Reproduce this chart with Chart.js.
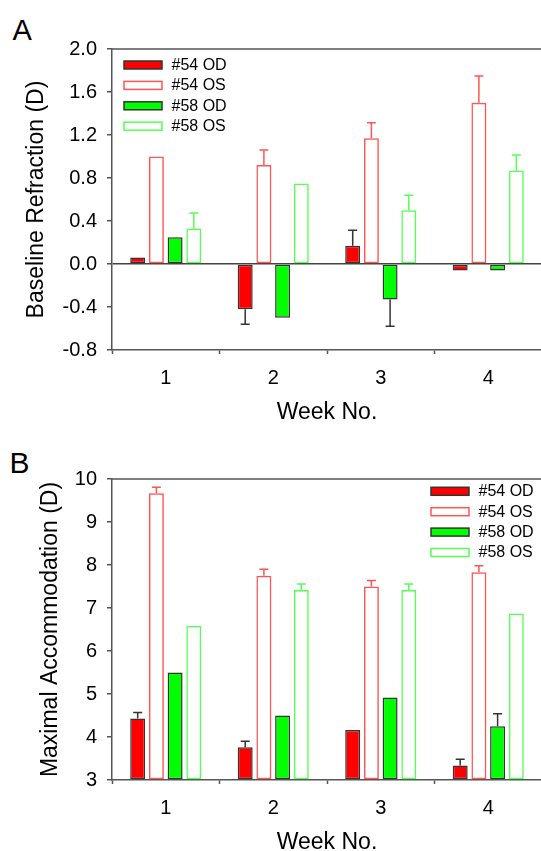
<!DOCTYPE html>
<html>
<head>
<meta charset="utf-8">
<script src="https://cdn.jsdelivr.net/npm/chart.js@4/dist/chart.umd.min.js"></script>
<style>
  body { margin: 0; background: #fff; overflow: hidden; width: 541px; height: 851px; position: relative; }
  .panel { position: absolute; left: 0; }
  .tag { position: absolute; font-family: "Liberation Sans", Arial, sans-serif; line-height: 1; color: #000; }
</style>
</head>
<body>
<div class="tag" style="left:12.5px; top:16px; font-size:29px;">A</div>
<div class="tag" style="left:9.5px; top:448px; font-size:30px;">B</div>
<div class="panel" style="top:0;"><canvas id="chartA" width="542" height="426"></canvas></div>
<div class="panel" style="top:426px;"><canvas id="chartB" width="542" height="430"></canvas></div>
<script>
const weeks = ['1', '2', '3', '4'];
const seriesNames = ['#54 OD', '#54 OS', '#58 OD', '#58 OS'];

// panel A - baseline refraction
const refr54OD = [0.06, -0.42, 0.17, -0.06];
const refr54OS = [1.00, 0.92, 1.17, 1.50];
const refr58OD = [0.25, -0.50, -0.33, -0.06];
const refr58OS = [0.33, 0.75, 0.50, 0.87];
const refrErr54OD = [0, 0.14, 0.145, 0];
const refrErr54OS = [0, 0.14, 0.145, 0.25];
const refrErr58OD = [0, 0, 0.25, 0];
const refrErr58OS = [0.145, 0, 0.14, 0.145];
const refrTicks = [-0.8, -0.4, 0.0, 0.4, 0.8, 1.2, 1.6, 2.0];

// panel B - maximal accommodation
const acc54OD = [4.43, 3.76, 4.16, 3.34];
const acc54OS = [9.67, 7.75, 7.50, 7.83];
const acc58OD = [5.50, 4.50, 4.92, 4.25];
const acc58OS = [6.59, 7.42, 7.42, 6.87];
const accErr54OD = [0.14, 0.14, 0, 0.14];
const accErr54OS = [0.14, 0.15, 0.14, 0.15];
const accErr58OD = [0, 0, 0, 0.29];
const accErr58OS = [0, 0.14, 0.14, 0];
const accTicks = [3, 4, 5, 6, 7, 8, 9, 10];

const FONT = '"Liberation Sans", Arial, sans-serif';
const AXIS = '#555';
const fills = ['#ff0000', 'rgba(0,0,0,0)', '#00ff00', 'rgba(0,0,0,0)'];
const borders = ['#333', '#ff5555', '#333', '#55ff55'];
const errColors = ['#333', '#ff5555', '#333', '#55ff55'];

// error bars, one sided, away from zero
const errorBars = {
    id: 'errorBars',
    afterDatasetsDraw(chart) {
        const ctx = chart.ctx;
        const y = chart.scales.y;
        ctx.save();
        ctx.lineWidth = 1.5;
        chart.data.datasets.forEach((ds, i) => {
            chart.getDatasetMeta(i).data.forEach((bar, j) => {
                const e = ds.err[j];
                if (!e) return;
                const v = ds.data[j];
                const y1 = y.getPixelForValue(v < 0 ? v - e : v + e);
                ctx.strokeStyle = errColors[i];
                ctx.beginPath();
                ctx.moveTo(bar.x, bar.y);
                ctx.lineTo(bar.x, y1);
                ctx.moveTo(bar.x - 4.5, y1);
                ctx.lineTo(bar.x + 4.5, y1);
                ctx.stroke();
            });
        });
        ctx.restore();
    }
};

// top frame line + legend inside the plot
const frameLegend = {
    id: 'frameLegend',
    afterDraw(chart, args, opts) {
        const ctx = chart.ctx;
        const a = chart.chartArea;
        ctx.save();
        ctx.strokeStyle = AXIS;
        ctx.lineWidth = 1.5;
        ctx.beginPath();
        ctx.moveTo(a.left, a.top);
        ctx.lineTo(a.right + 2, a.top);
        ctx.stroke();

        const x0 = opts.fromRight ? a.right - opts.dx : a.left + opts.dx;
        let yy = a.top + opts.dy;
        ctx.font = '16px ' + FONT;
        ctx.textBaseline = 'middle';
        chart.data.datasets.forEach((ds, i) => {
            ctx.fillStyle = fills[i] === 'rgba(0,0,0,0)' ? '#fff' : fills[i];
            ctx.fillRect(x0, yy - 4, 38, 8);
            ctx.strokeStyle = borders[i];
            ctx.lineWidth = 1.5;
            ctx.strokeRect(x0, yy - 4, 38, 8);
            ctx.fillStyle = '#000';
            ctx.fillText(ds.label, x0 + 47.5, yy + 0.5);
            yy += 20.4;
        });
        ctx.restore();
    }
};

function makeChart(id, values, errs, ticks, fmt, yTitle, titlePad, top, legendOpts, base) {
    const datasets = values.map((d, i) => ({
        label: seriesNames[i],
        data: d,
        err: errs[i],
        backgroundColor: fills[i],
        borderColor: borders[i],
        borderWidth: 1.5,
        borderSkipped: false,
        base: base,
        categoryPercentage: 0.696,
        barPercentage: 0.8
    }));
    return new Chart(document.getElementById(id), {
        type: 'bar',
        data: { labels: weeks, datasets: datasets },
        plugins: [errorBars, frameLegend],
        options: {
            responsive: false,
            animation: false,
            layout: { padding: { top: top, left: 0, right: 0, bottom: 0 } },
            plugins: {
                legend: { display: false },
                tooltip: { enabled: false },
                frameLegend: legendOpts
            },
            scales: {
                x: {
                    grid: { display: true, drawOnChartArea: false, tickLength: 4, tickColor: AXIS, tickWidth: 1.5 },
                    border: { color: AXIS, width: 1.5 },
                    ticks: { color: '#000', padding: 12, font: { family: FONT, size: 20 } },
                    title: { display: true, text: 'Week No.', color: '#000', padding: 0, font: { family: FONT, size: 23 } },
                    afterFit(scale) { scale.height = 76; }
                },
                y: {
                    min: ticks[0],
                    max: ticks[ticks.length - 1],
                    afterBuildTicks(scale) { scale.ticks = ticks.map(v => ({ value: v })); },
                    grid: {
                        drawOnChartArea: true,
                        tickLength: 5,
                        tickColor: AXIS,
                        tickWidth: 1.5,
                        lineWidth: 1.5,
                        color: (c) => (c.tick && c.tick.value === 0 ? '#444' : 'rgba(0,0,0,0)')
                    },
                    border: { color: AXIS, width: 1.5 },
                    ticks: { color: '#000', padding: 10, font: { family: FONT, size: 20 }, callback: fmt },
                    title: { display: true, text: yTitle, color: '#000', padding: { top: titlePad }, font: { family: FONT, size: 23 } },
                    afterFit(scale) { scale.width = 112; }
                }
            }
        }
    });
}

let chartA = makeChart('chartA',
    [refr54OD, refr54OS, refr58OD, refr58OS],
    [refrErr54OD, refrErr54OS, refrErr58OD, refrErr58OS],
    refrTicks, (v) => Number(v).toFixed(1),
    'Baseline Refraction (D)', 23, 49,
    { fromRight: false, dx: 12, dy: 16 }, undefined);

let chartB = makeChart('chartB',
    [acc54OD, acc54OS, acc58OD, acc58OS],
    [accErr54OD, accErr54OS, accErr58OD, accErr58OS],
    accTicks, (v) => String(v),
    'Maximal Accommodation (D)', 36.5, 53,
    { fromRight: true, dx: 111, dy: 12.3 }, 3);
</script>
</body>
</html>
